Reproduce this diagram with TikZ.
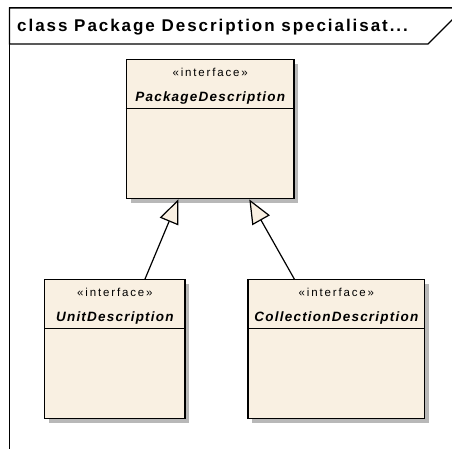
\documentclass[tikz,border=0pt]{standalone}
\usepackage{fontspec}
\setmainfont{Liberation Sans}
\newfontfamily\titlefont[LetterSpace=11.5]{Liberation Sans}
\newfontfamily\stfont[LetterSpace=16]{Liberation Sans}
\newfontfamily\namefont[LetterSpace=9]{Liberation Sans}
\usetikzlibrary{arrows.meta,calc}
\definecolor{cream}{HTML}{F9F0E2}
\definecolor{shadowgray}{HTML}{B8B8B8}
\tikzset{
  classbox/.style={draw=black,fill=cream,line width=1.4pt,rectangle,inner sep=0pt,
    minimum height=139pt},
  stereo/.style={font=\stfont\fontsize{11.5}{12}\selectfont,inner sep=0pt,anchor=base},
  cname/.style={font=\namefont\bfseries\itshape\fontsize{13.5}{14}\selectfont,inner sep=0pt,anchor=base},
  gen/.style={line width=1.2pt,-{Triangle[length=24pt,width=20pt,fill=cream,line width=1.2pt]},line join=miter},
  framestyle/.style={line width=1.1pt,draw=black}
}
\begin{document}
\begin{tikzpicture}[x=1pt,y=-1pt]
\useasboundingbox (0,0) rectangle (452,448);
\clip (0,0) rectangle (452,448);
\fill[white] (0,0) rectangle (452,448);
% frame
\draw[framestyle] (9.5,460) -- (9.5,8) -- (470,8);
\draw[framestyle,fill=white] (9.5,8) -- (9.5,44) -- (428,44) -- (464,8) -- cycle;
\node[font=\titlefont\bfseries\fontsize{17}{17}\selectfont,anchor=base west,inner sep=0pt] (title) at (17,31.9) {class Package Description specialisat...};
% shadows
\fill[shadowgray] (130.7,64) rectangle (298.3,203.3);
\fill[shadowgray] (49,284) rectangle (189.3,422.7);
\fill[shadowgray] (252.3,284) rectangle (429,422.7);
% classes
\node[classbox,minimum width=167.6pt,anchor=north west] (pkg) at (125.7,59) {};
\node[classbox,minimum width=140.3pt,anchor=north west] (unit) at (44,279) {};
\node[classbox,minimum width=176.7pt,anchor=north west] (coll) at (247.3,279) {};
\foreach \b/\n in {pkg/PackageDescription,unit/UnitDescription,coll/CollectionDescription}{
  \node[stereo] (\b-st) at ($(\b.north)+(0,17.5)$) {«interface»};
  \node[cname] (\b-nm) at ($(\b.north)+(0,42.5)$) {\n};
  \draw[line width=1.4pt] ($(\b.north west)+(0,49.7)$) -- ($(\b.north east)+(0,49.7)$);
}
% connectors
\coordinate (ua) at ($(unit.north west)+(101,0)$);
\coordinate (pa) at ($(pkg.south west)+(52.6,0)$);
\coordinate (ca) at ($(coll.north west)+(47,0)$);
\coordinate (pb) at ($(pkg.south west)+(123.6,0)$);
\draw[gen] (ua) -- (pa);
\draw[gen] (ca) -- (pb);
\end{tikzpicture}
\end{document}
